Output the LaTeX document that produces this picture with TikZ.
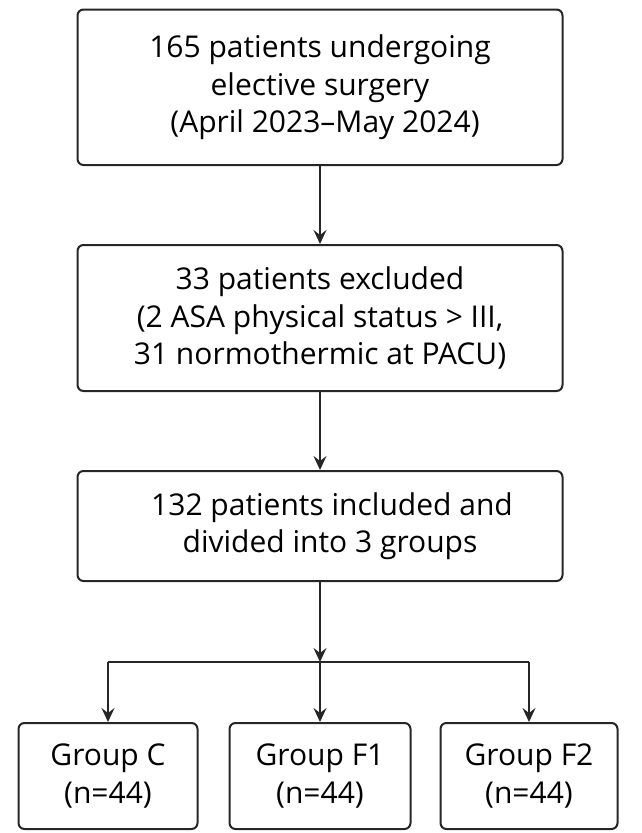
\documentclass[tikz,border=0pt]{standalone}
\usepackage{fontspec}
\setmainfont{Open Sans}
\usepackage{tikz}
\usetikzlibrary{arrows.meta, positioning}
\tikzstyle{stage} = [rectangle, rounded corners=6pt, draw=black!85, line width=2pt,
                     text centered, align=center, inner sep=0pt, font=\fontsize{30}{37.5}\selectfont]
\tikzstyle{group} = [stage, minimum height=106pt]
\tikzstyle{arrow} = [-{Stealth[length=14pt, width=13pt, inset=5pt]}, line width=2pt, draw=black!85]
\tikzstyle{line}  = [line width=2pt, draw=black!85]

\begin{document}
\begin{tikzpicture}[node distance=78pt]
    \useasboundingbox (0,0) rectangle (642pt,-833pt);
    \node (screen) [stage, minimum width=485pt, minimum height=155.5pt] at (320pt,-87.25pt)
        {165 patients undergoing\\elective surgery\\\hspace*{10pt}(April 2023--May 2024)};
    \node (excl) [stage, below=of screen, minimum width=485pt, minimum height=146pt]
        {33 patients excluded\\(2 ASA physical status > III,\\31 normothermic at PACU)};
    \node (incl) [stage, below=of excl, minimum width=485pt, minimum height=110pt]
        {\hspace*{24pt}132 patients included and\\\hspace*{20pt}divided into 3 groups};

    \coordinate [below=80pt of incl] (split);
    \node (gF1) [group, below=60pt of split, minimum width=181pt] {Group F1\\(n=44)};
    \node (gC)  [group, left=30pt of gF1, minimum width=179pt] {Group C\\(n=44)};
    \node (gF2) [group, right=28pt of gF1, minimum width=177pt] {Group F2\\(n=44)};

    \draw[arrow] (screen) -- (excl);
    \draw[arrow] (excl) -- (incl);
    \draw[arrow] (incl) -- (split);
    \draw[line] (gC.north |- split) -- (gF2.north |- split);
    \draw[arrow] (gC.north |- split) -- (gC);
    \draw[arrow] (split) -- (gF1);
    \draw[arrow] (gF2.north |- split) -- (gF2);
\end{tikzpicture}
\end{document}
